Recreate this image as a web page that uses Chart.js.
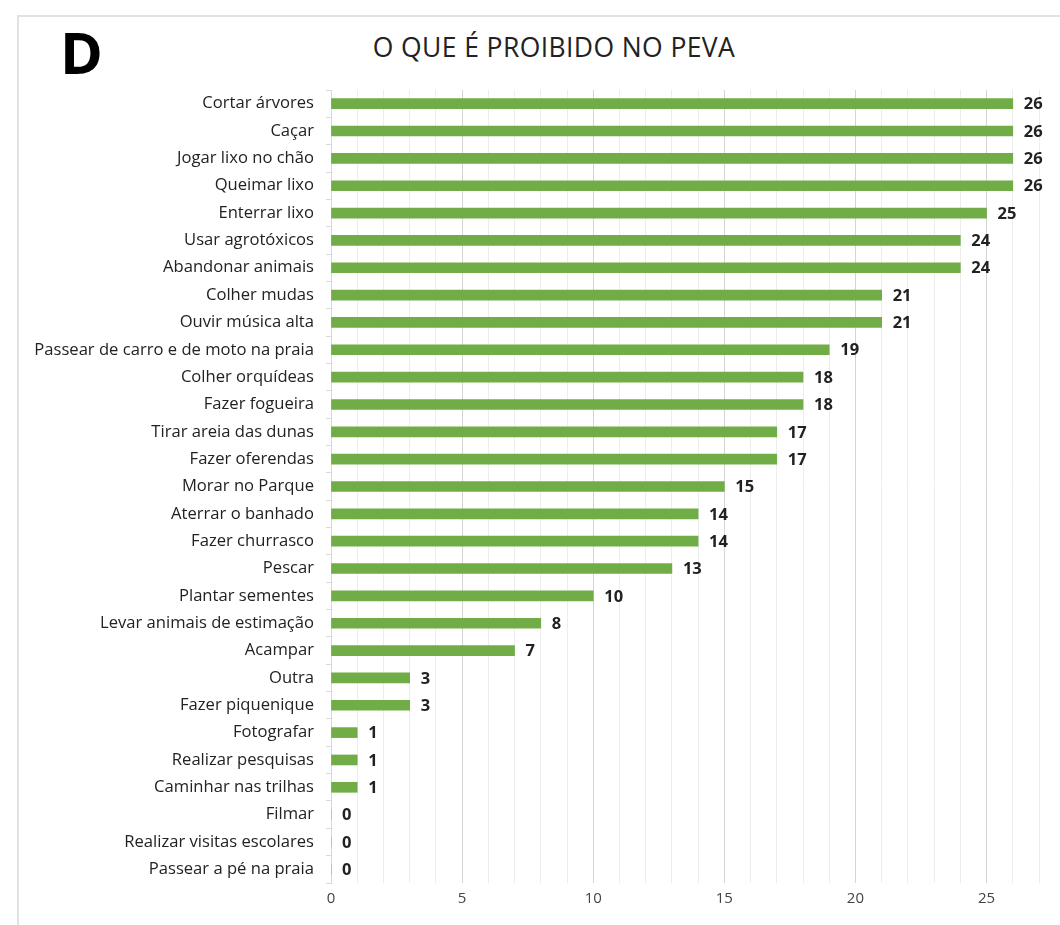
<!DOCTYPE html>
<html>
<head>
<meta charset="utf-8">
<script src="https://cdn.jsdelivr.net/npm/chart.js@4/dist/chart.umd.min.js"></script>
<style>
  body { margin: 0; background: #fff; }
  #wrap { position: relative; width: 1060px; height: 925px; overflow: hidden; }
  #frame { position: absolute; left: 17px; top: 15px; width: 1100px; height: 1000px;
           border-top: 2px solid #e2e2e2; border-left: 2px solid #e2e2e2; }
  #letter { position: absolute; left: 60px; top: 12px; font: bold 58px "Open Sans", sans-serif; color: #000; }
  #title { position: absolute; left: 0; width: 1108px; top: 29px; text-align: center;
           font: 26.5px "Open Sans", sans-serif; color: #222; letter-spacing: 0.4px; }
  canvas { position: absolute; left: 0; top: 0; }
</style>
</head>
<body>
<div id="wrap">
  <div id="frame"></div>
  <div id="letter">D</div>
  <div id="title">O QUE É PROIBIDO NO PEVA</div>
  <canvas id="barChart" width="1060" height="925"></canvas>
</div>
<script>
const categories = [
    "Cortar árvores", "Caçar", "Jogar lixo no chão", "Queimar lixo", "Enterrar lixo",
    "Usar agrotóxicos", "Abandonar animais", "Colher mudas", "Ouvir música alta",
    "Passear de carro e de moto na praia", "Colher orquídeas", "Fazer fogueira",
    "Tirar areia das dunas", "Fazer oferendas", "Morar no Parque", "Aterrar o banhado",
    "Fazer churrasco", "Pescar", "Plantar sementes", "Levar animais de estimação",
    "Acampar", "Outra", "Fazer piquenique", "Fotografar", "Realizar pesquisas",
    "Caminhar nas trilhas", "Filmar", "Realizar visitas escolares", "Passear a pé na praia"
];
const counts = [26, 26, 26, 26, 25, 24, 24, 21, 21, 19, 18, 18, 17, 17, 15, 14, 14, 13, 10, 8, 7, 3, 3, 1, 1, 1, 0, 0, 0];
const tickLabels = [0, 5, 10, 15, 20, 25];

// draws the numbers at the end of each bar
const valueLabels = {
    id: 'valueLabels',
    afterDatasetsDraw(chart) {
        const ctx = chart.ctx;
        const meta = chart.getDatasetMeta(0);
        ctx.save();
        ctx.font = 'bold 16.5px "Open Sans", sans-serif';
        ctx.fillStyle = '#222';
        ctx.textBaseline = 'middle';
        ctx.textAlign = 'left';
        meta.data.forEach(function(bar, i) {
            ctx.fillText(counts[i], bar.x + 11, bar.y + 1);
        });
        ctx.restore();
    }
};

Chart.defaults.font.family = '"Open Sans", sans-serif';

var ctx = document.getElementById('barChart').getContext('2d');
var barChart = new Chart(ctx, {
    type: 'bar',
    data: {
        labels: categories,
        datasets: [{
            data: counts,
            backgroundColor: '#70ad47',
            barThickness: 10
        }]
    },
    plugins: [valueLabels],
    options: {
        indexAxis: 'y',
        responsive: false,
        animation: false,
        layout: { padding: { top: 90, right: 21, bottom: 0, left: 0 } },
        plugins: {
            legend: { display: false },
            tooltip: { enabled: false }
        },
        scales: {
            x: {
                min: 0,
                max: 27,
                ticks: {
                    stepSize: 1,
                    autoSkip: false,
                    maxRotation: 0,
                    color: '#444',
                    font: { size: 15 },
                    padding: 7,
                    callback: function(v) { return tickLabels.indexOf(v) >= 0 ? v : ''; }
                },
                grid: {
                    drawTicks: false,
                    color: function(c) { return c.tick && c.tick.value % 5 === 0 ? '#d4d4d4' : '#ededed'; }
                },
                border: { display: false },
                afterFit: function(scale) { scale.height = 42; }
            },
            y: {
                ticks: {
                    color: '#222',
                    font: { size: 16.6 },
                    padding: 12,
                    autoSkip: false
                },
                grid: { drawOnChartArea: false, tickLength: 5, color: '#d9d9d9' },
                border: { color: '#d9d9d9' },
                afterFit: function(scale) { scale.width = 331; }
            }
        }
    }
});
</script>
</body>
</html>
